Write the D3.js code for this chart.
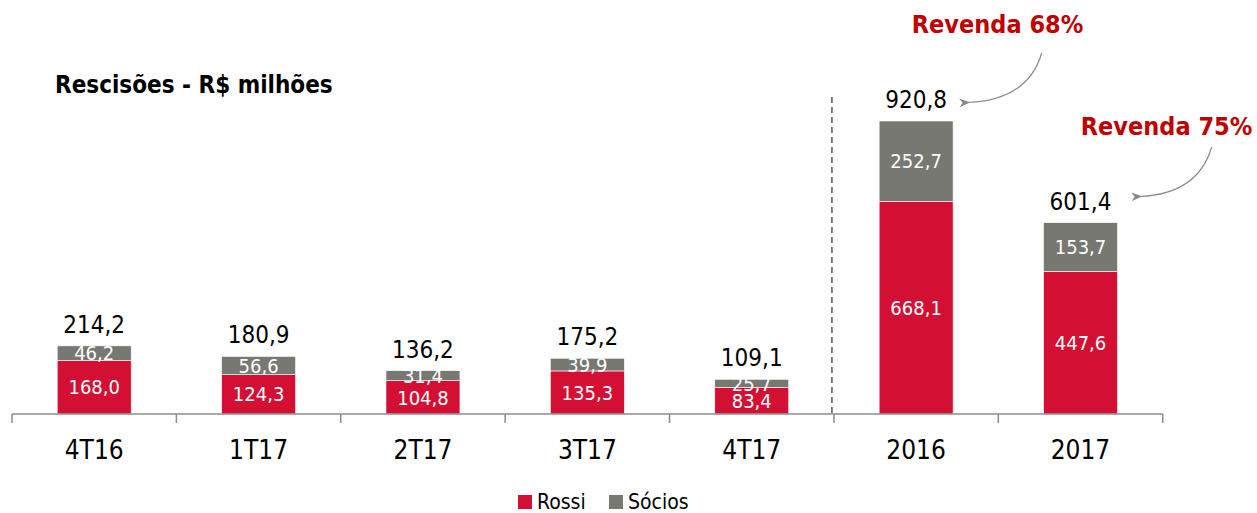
<!DOCTYPE html>
<html>
<head>
<meta charset="utf-8">
<script src="https://cdn.jsdelivr.net/npm/d3@7"></script>
<style>
  html, body { margin: 0; padding: 0; background: #fff; }
  svg { display: block; }
  text { font-family: "DejaVu Sans Condensed", "DejaVu Sans", sans-serif; font-stretch: condensed; }
</style>
</head>
<body>
<svg id="chart" width="1257" height="513"></svg>
<script>
// Rescisões por período (R$ milhões)
const categories = ["4T16", "1T17", "2T17", "3T17", "4T17", "2016", "2017"];
const rossi  = [168.0, 124.3, 104.8, 135.3, 83.4, 668.1, 447.6];
const socios = [46.2, 56.6, 31.4, 39.9, 25.7, 252.7, 153.7];
const totals = [214.2, 180.9, 136.2, 175.2, 109.1, 920.8, 601.4];
const seriesNames = ["Rossi", "Sócios"];
const revendaNotes = [
  { category: "2016", text: "Revenda 68%" },
  { category: "2017", text: "Revenda 75%" }
];

const fmt = v => v.toFixed(1).replace(".", ",");
const colors = { Rossi: "#D31034", "Sócios": "#787873" };

const svg = d3.select("#chart");
const baseY = 414;

const x = d3.scaleBand()
  .domain(categories)
  .range([12, 1162.7])
  .paddingInner(0.55)
  .paddingOuter(0.275);

const y = d3.scaleLinear()
  .domain([0, d3.max(totals)])
  .range([baseY, 121]);

const rows = categories.map((c, i) => ({ cat: c, Rossi: rossi[i], "Sócios": socios[i], total: totals[i] }));
const stack = d3.stack().keys(seriesNames)(rows);

// Stacked bars
const layers = svg.append("g").selectAll("g")
  .data(stack).join("g")
  .attr("fill", d => colors[d.key]);

layers.selectAll("rect")
  .data(d => d)
  .join("rect")
  .attr("x", d => x(d.data.cat))
  .attr("width", x.bandwidth())
  .attr("y", d => y(d[1]))
  .attr("height", d => y(d[0]) - y(d[1]))
  .attr("stroke", "#ffffff")
  .attr("stroke-width", 0.6);

// Segment values
stack.forEach(layer => {
  svg.append("g").selectAll("text")
    .data(layer).join("text")
    .attr("x", d => x(d.data.cat) + x.bandwidth() / 2)
    .attr("y", d => (y(d[0]) + y(d[1])) / 2)
    .attr("dy", "0.36em")
    .attr("text-anchor", "middle")
    .attr("fill", "#ffffff")
    .attr("font-size", 20)
    .text(d => fmt(d[1] - d[0]));
});

// Totals above bars
svg.append("g").selectAll("text")
  .data(rows).join("text")
  .attr("x", d => x(d.cat) + x.bandwidth() / 2)
  .attr("y", d => y(d.total) - 13)
  .attr("text-anchor", "middle")
  .attr("fill", "#000")
  .attr("font-size", 24)
  .text(d => fmt(d.total));

// Category axis
const step = x.step();
const left = x.range()[0];
const axis = svg.append("g").attr("stroke", "#8c8c8c").attr("stroke-width", 1.5).attr("fill", "none");
axis.append("line").attr("x1", left).attr("x2", x.range()[1]).attr("y1", baseY).attr("y2", baseY);
d3.range(categories.length + 1).forEach(i => {
  axis.append("line")
    .attr("x1", left + i * step).attr("x2", left + i * step)
    .attr("y1", baseY).attr("y2", baseY + 9);
});

svg.append("g").selectAll("text")
  .data(categories).join("text")
  .attr("x", d => x(d) + x.bandwidth() / 2)
  .attr("y", 459)
  .attr("text-anchor", "middle")
  .attr("font-size", 26)
  .attr("fill", "#000")
  .text(d => d);

// Separator between quarters and years
const sepX = x("2016") - (step - x.bandwidth()) / 2 - 2;
svg.append("line")
  .attr("x1", sepX).attr("x2", sepX)
  .attr("y1", 97).attr("y2", baseY)
  .attr("stroke", "#555")
  .attr("stroke-width", 1.5)
  .attr("stroke-dasharray", "6,4");

// Title
svg.append("text")
  .attr("x", 55).attr("y", 93)
  .attr("font-size", 24)
  .attr("font-weight", "bold")
  .attr("fill", "#000")
  .text("Rescisões - R$ milhões");

// Resale annotations with curved arrows
const defs = svg.append("defs");
defs.append("marker")
  .attr("id", "arrowhead")
  .attr("viewBox", "0 0 10 10")
  .attr("refX", 2).attr("refY", 5)
  .attr("markerWidth", 9).attr("markerHeight", 9)
  .attr("orient", "auto-start-reverse")
  .append("path")
  .attr("d", "M10,1 L0,5 L10,9 L7,5 Z")
  .attr("fill", "#8a8a8a");

const noteLayout = {
  "2016": { tx: 997.5, ty: 33, sx: 1041.7, sy: 53, ex: 968, ey: 102.5, cx: 1028, cy: 100 },
  "2017": { tx: 1166.5, ty: 135, sx: 1211.7, sy: 147, ex: 1140, ey: 196.5, cx: 1198, cy: 194 }
};

revendaNotes.forEach(n => {
  const L = noteLayout[n.category];
  svg.append("text")
    .attr("x", L.tx).attr("y", L.ty)
    .attr("text-anchor", "middle")
    .attr("font-size", 25)
    .attr("font-weight", "bold")
    .attr("fill", "#C00000")
    .text(n.text);
  const p = d3.path();
  p.moveTo(L.sx, L.sy);
  p.quadraticCurveTo(L.cx, L.cy, L.ex, L.ey);
  svg.append("path")
    .attr("d", p.toString())
    .attr("fill", "none")
    .attr("stroke", "#8a8a8a")
    .attr("stroke-width", 1.2)
    .attr("marker-end", "url(#arrowhead)");
});

// Legend
const legend = svg.append("g");
const legendItems = [
  { name: "Rossi", sx: 518, tx: 537 },
  { name: "Sócios", sx: 609, tx: 628 }
];
legendItems.forEach(it => {
  legend.append("rect")
    .attr("x", it.sx).attr("y", 495)
    .attr("width", 14).attr("height", 14)
    .attr("fill", colors[it.name]);
  legend.append("text")
    .attr("x", it.tx).attr("y", 509)
    .attr("font-size", 21)
    .attr("fill", "#000")
    .text(it.name);
});
</script>
</body>
</html>
